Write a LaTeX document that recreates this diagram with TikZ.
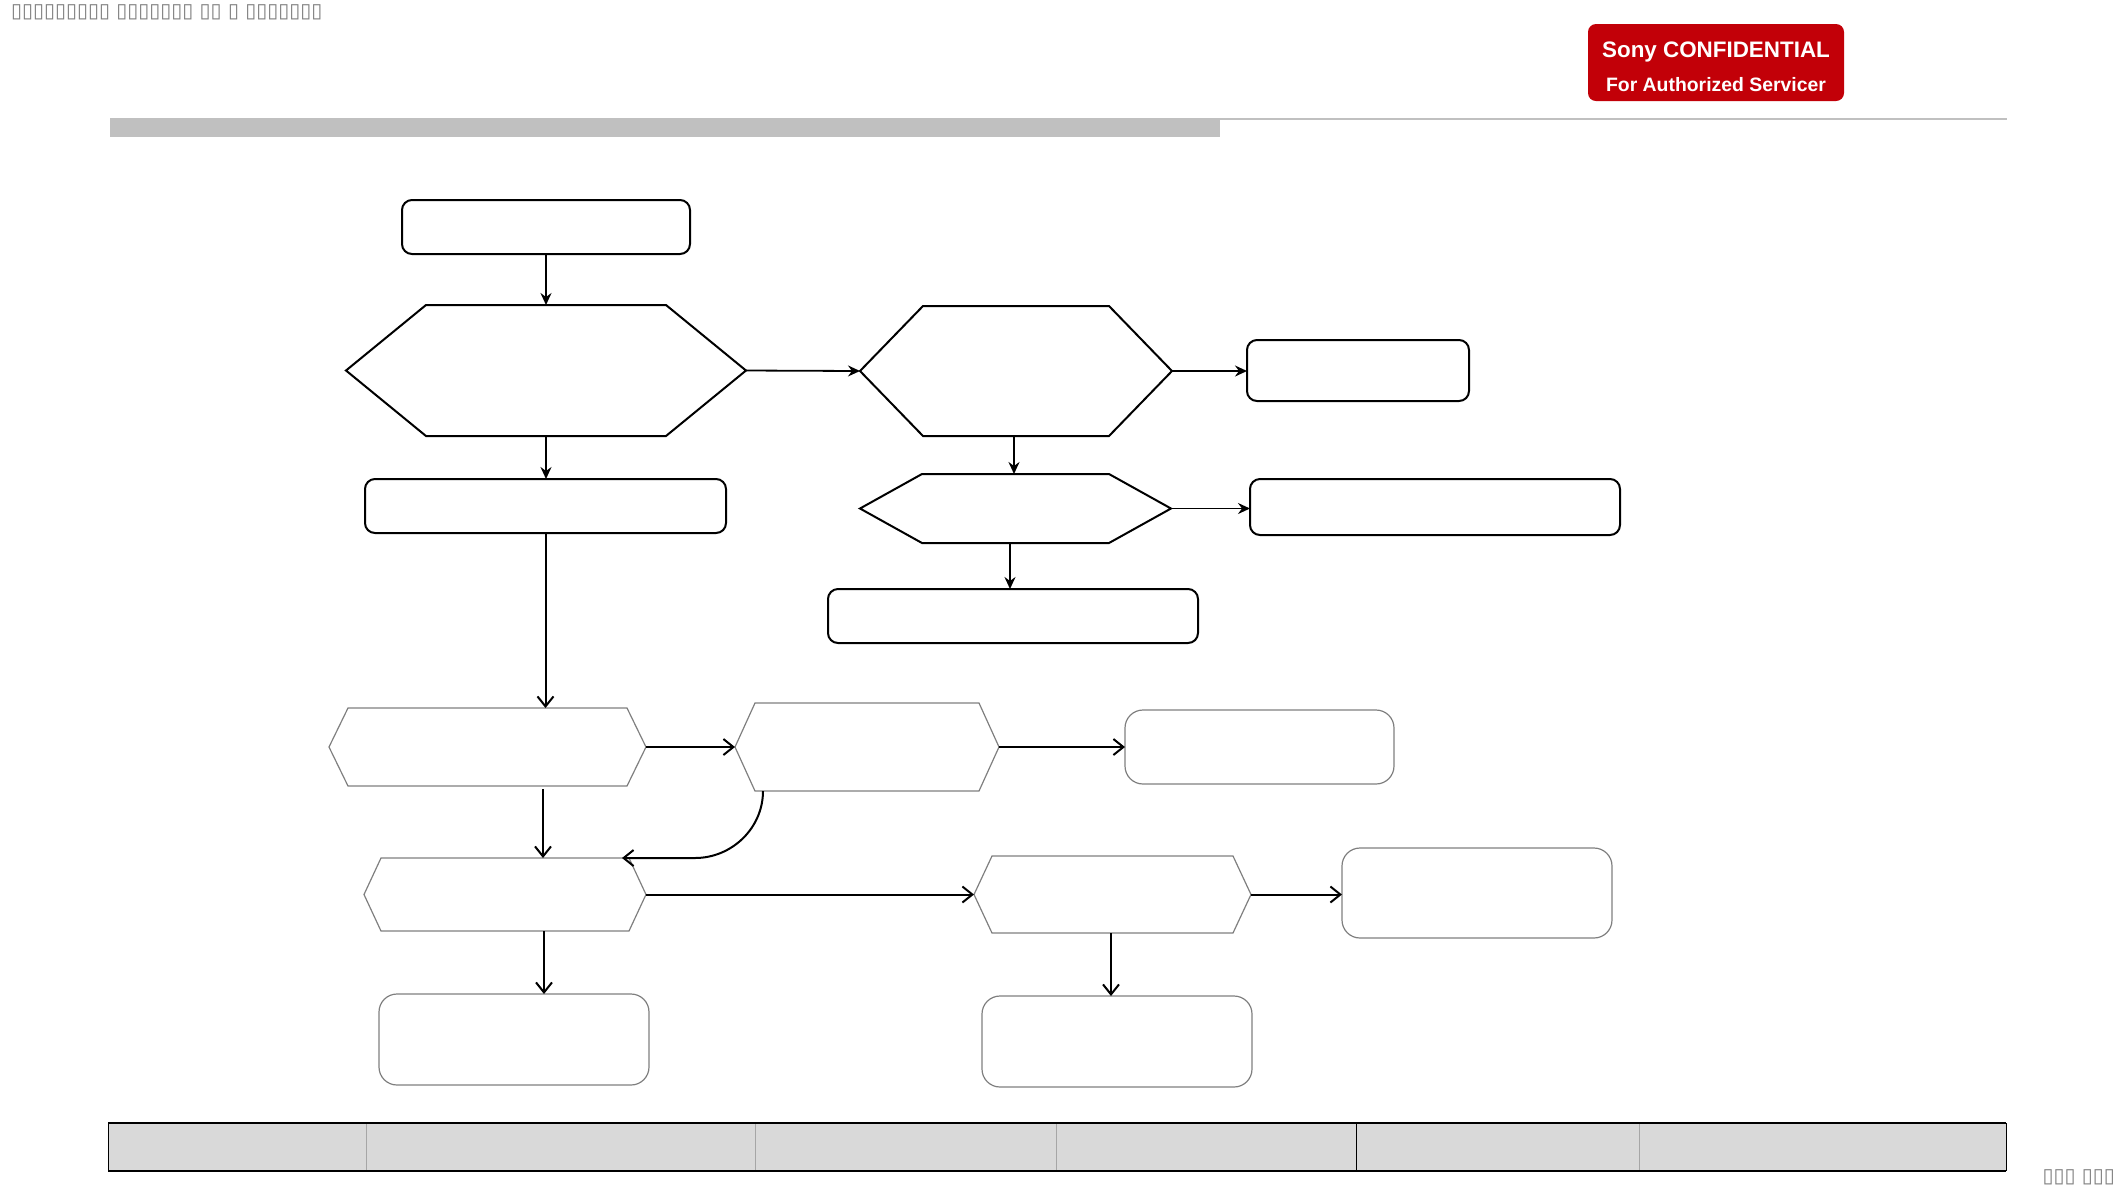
\documentclass[tikz,border=0pt]{standalone}
\usepackage{fontspec}
\setmainfont{Liberation Sans}
\newfontfamily\dejavu{DejaVu Sans}
\usetikzlibrary{arrows.meta,calc}
\definecolor{sonyred}{HTML}{C20008}
\definecolor{barg}{HTML}{C0C0C0}
\definecolor{tblg}{HTML}{D9D9D9}
\definecolor{tofu}{HTML}{808080}
\definecolor{lowgray}{HTML}{7F7F7F}
\tikzset{
  frame/.style={inner sep=0pt, outer sep=0pt},
  upbox/.style={frame, draw=black, line width=1pt, rounded corners=5pt},
  hexarea/.style={frame},
  upline/.style={draw=black, line width=1pt, line join=miter},
  lowline/.style={draw=lowgray, line width=0.6pt},
  lowbox/.style={frame, draw=lowgray, line width=0.6pt, rounded corners=9pt},
  uparrow/.style={line width=0.9pt, -{Stealth[length=6pt,width=5.5pt,inset=2pt]}},
  lowarrow/.style={line width=1pt, -{Straight Barb[length=5pt,width=8pt]}},
  tofutext/.style={frame, text=tofu, font=\dejavu\fontsize{10}{12}\selectfont},
}
\newcommand\hexoutline[3]{%
  \draw[#1] (#2.west) -- ([xshift=#3]#2.north west) -- ([xshift=-#3]#2.north east)
    -- (#2.east) -- ([xshift=-#3]#2.south east) -- ([xshift=#3]#2.south west) -- cycle;}
\begin{document}
\begin{tikzpicture}[x=0.5pt,y=-0.5pt]
\useasboundingbox (0,0) rectangle (2117,1191);
% header
\node[tofutext, anchor=west] (hdr) at (11,12) {▯▯▯▯▯▯▯▯▯ ▯▯▯▯▯▯▯ ▯▯ ▯ ▯▯▯▯▯▯▯};
\node[frame, fill=sonyred, rounded corners=4pt, minimum width=128pt, minimum height=38.5pt] (badge) at (1716,62.5) {};
\node[frame, text=white, font=\bfseries\fontsize{11.2}{13}\selectfont] (sony) at (1716,52) {Sony CONFIDENTIAL};
\node[frame, text=white, font=\bfseries\fontsize{9.7}{12}\selectfont] (auth) at (1716,84.5) {For Authorized Servicer};
\fill[barg] (110,118) rectangle (1220,137);
\draw[barg, line width=1pt] (1220,119) -- (2007,119);
% upper flow
\node[upbox, minimum width=144pt, minimum height=27pt] (A) at (546,227) {};
\node[hexarea, minimum width=200pt, minimum height=65.5pt] (H1) at (546,370.5) {};
\hexoutline{upline}{H1}{40pt}
\node[hexarea, minimum width=156pt, minimum height=65pt] (H2) at (1016,371) {};
\hexoutline{upline}{H2}{31.5pt}
\node[upbox, minimum width=111pt, minimum height=30.5pt] (R1) at (1358,370.5) {};
\node[hexarea, minimum width=155.5pt, minimum height=34.5pt] (H3) at (1015.5,508.5) {};
\hexoutline{upline}{H3}{31pt}
\node[upbox, minimum width=185pt, minimum height=28pt] (R2) at (1435,507) {};
\node[upbox, minimum width=185pt, minimum height=27pt] (B3) at (1013,616) {};
\node[upbox, minimum width=180.5pt, minimum height=27pt] (L1) at (545.5,506) {};
\draw[uparrow] (A.south) -- (A.south |- H1.north);
\draw[uparrow] (H1.east) -- (H2.west);
\draw[uparrow] (H2.east) -- (H2.east -| R1.west);
\draw[uparrow] ([xshift=-1pt]H2.south) -- ([xshift=-1pt]H2.south |- H3.north);
\draw[uparrow] (H3.east) -- (H3.east -| R2.west);
\draw[uparrow] ([xshift=-2.75pt]H3.south) -- ([xshift=-2.75pt]H3.south |- B3.north);
\draw[uparrow] (H1.south) -- (H1.south |- L1.north);
% lower flow
\node[hexarea, minimum width=158.5pt, minimum height=39pt] (G1) at (487.5,747) {};
\hexoutline{lowline}{G1}{9.5pt}
\node[hexarea, minimum width=132pt, minimum height=44pt] (G2) at (867,747) {};
\hexoutline{lowline}{G2}{10pt}
\node[lowbox, minimum width=134.5pt, minimum height=37pt] (G3) at (1259.5,747) {};
\node[hexarea, minimum width=141pt, minimum height=36.5pt] (G4) at (505,894.5) {};
\hexoutline{lowline}{G4}{8.5pt}
\node[hexarea, minimum width=138.5pt, minimum height=38.5pt] (G5) at (1112.5,894.5) {};
\hexoutline{lowline}{G5}{9pt}
\node[lowbox, minimum width=135pt, minimum height=45pt] (G6) at (1477,893) {};
\node[lowbox, minimum width=135pt, minimum height=45.5pt] (G7) at (514,1039.5) {};
\node[lowbox, minimum width=135pt, minimum height=45.5pt] (G8) at (1117,1041.5) {};
\draw[lowarrow] (L1.south) -- (L1.south |- G1.north);
\draw[lowarrow] (G1.east) -- (G2.west);
\draw[lowarrow] (G2.east) -- (G2.east -| G3.west);
\draw[lowarrow] ([xshift=27.75pt,yshift=-1.5pt]G1.south) -- ([xshift=27.75pt]G1.south |- G4.north);
\coordinate (cs) at ([xshift=-52pt]G2.south);
\coordinate (cc) at (cs |- G4.north);
\draw[lowarrow] (cs) .. controls ([yshift=-18.5pt]cs) and ([xshift=-15.5pt]cc) .. ([xshift=-34pt]cc) -- ([xshift=-12pt]G4.north east);
\draw[lowarrow] (G4.east) -- (G4.east -| G5.west);
\draw[lowarrow] (G5.east) -- (G5.east -| G6.west);
\draw[lowarrow] ([xshift=19.5pt]G4.south) -- ([xshift=19.5pt]G4.south |- G7.north);
\draw[lowarrow] ([xshift=-0.75pt]G5.south) -- ([xshift=-0.75pt]G5.south |- G8.north);
% footer table
\fill[tblg] (108,1123) rectangle (2006,1171);
\foreach \xx in {366,755,1056,1639} \draw[gray!70, line width=0.5pt] (\xx,1123) -- (\xx,1171);
\draw[black, line width=0.5pt] (1356,1123) -- (1356,1171);
\draw[black, line width=0.5pt] (108,1123) -- (108,1171) (2006,1123) -- (2006,1171);
\draw[black, line width=0.7pt] (108,1123) -- (2006,1123);
\draw[black, line width=1pt] (108,1171) -- (2006,1171);
\node[tofutext, anchor=east] (pg) at (2115,1177) {▯▯▯ ▯▯▯};
\end{tikzpicture}
\end{document}
